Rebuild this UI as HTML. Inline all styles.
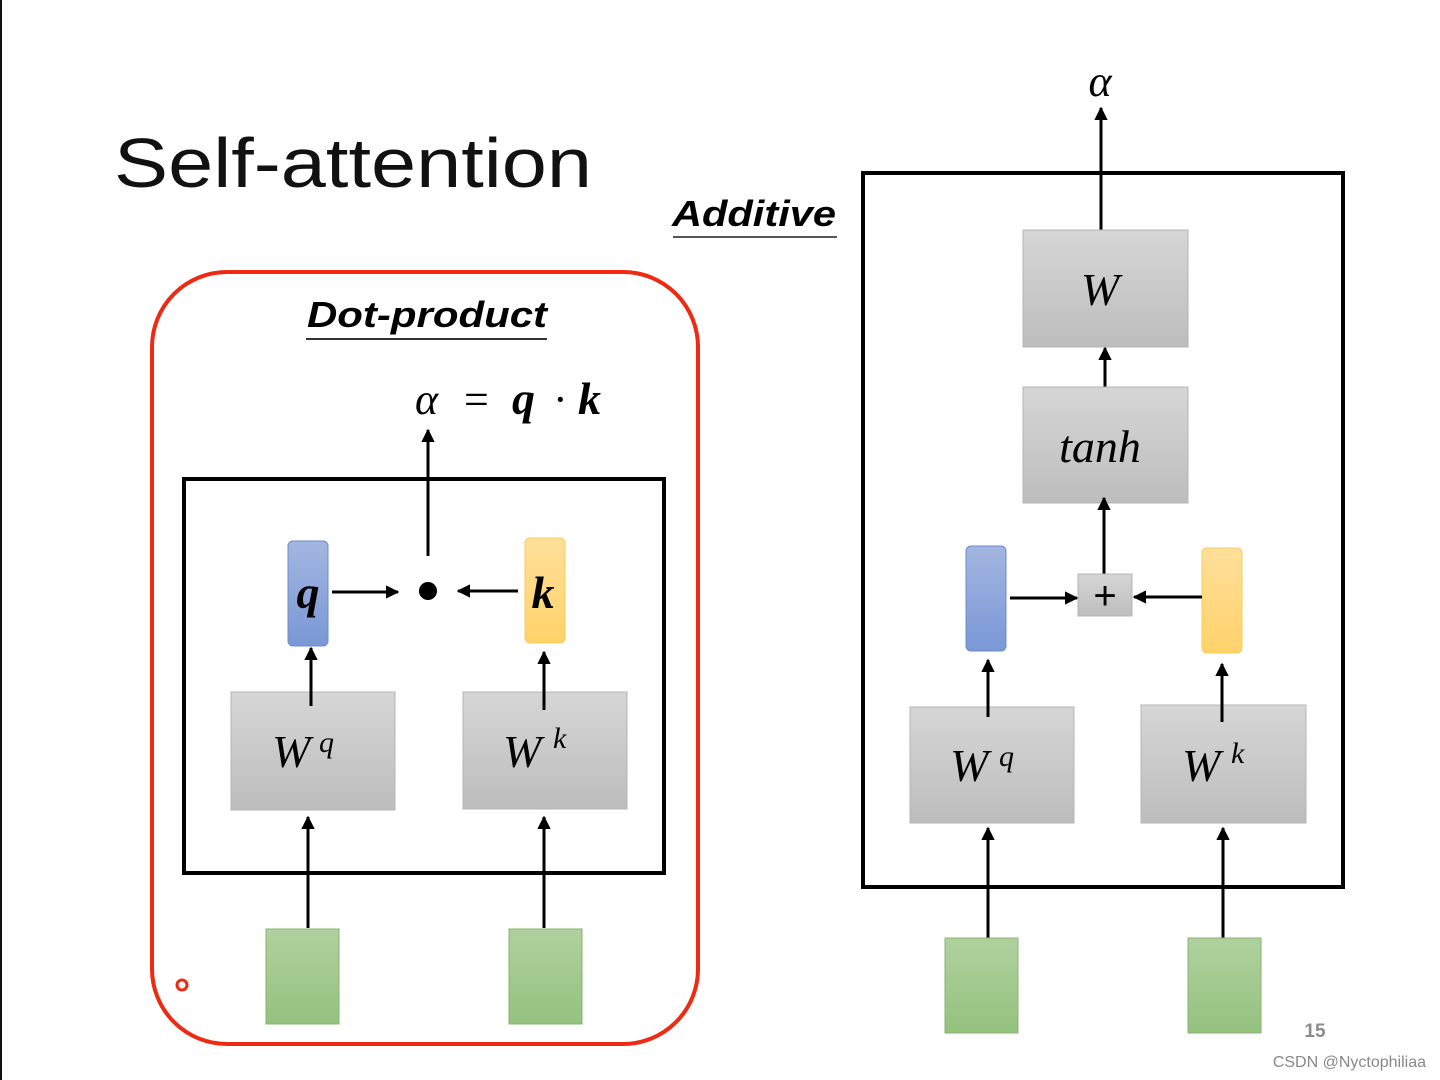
<!DOCTYPE html>
<html><head><meta charset="utf-8"><style>
html,body{margin:0;padding:0;background:#fff;}
svg{display:block;}
</style></head><body>
<svg width="1440" height="1080" viewBox="0 0 1440 1080" xmlns="http://www.w3.org/2000/svg">
<defs>
<linearGradient id="g" x1="0" y1="0" x2="0" y2="1"><stop offset="0" stop-color="#d6d6d6"/><stop offset="1" stop-color="#bdbdbd"/></linearGradient>
<linearGradient id="gr" x1="0" y1="0" x2="0" y2="1"><stop offset="0" stop-color="#b0d19f"/><stop offset="1" stop-color="#94c27e"/></linearGradient>
<linearGradient id="bl" x1="0" y1="0" x2="0" y2="1"><stop offset="0" stop-color="#a3b6e0"/><stop offset="1" stop-color="#7a98d6"/></linearGradient>
<linearGradient id="ye" x1="0" y1="0" x2="0" y2="1"><stop offset="0" stop-color="#ffdf9a"/><stop offset="1" stop-color="#ffd26a"/></linearGradient>
<marker id="a" viewBox="0 0 10 10" refX="9" refY="5" markerWidth="4.5" markerHeight="4.5" orient="auto-start-reverse" markerUnits="strokeWidth"><path d="M0,0 L10,5 L0,10 z" fill="#000"/></marker>
</defs>
<rect x="0" y="0" width="2" height="1080" fill="#111"/>
<text x="114" y="187" font-family="Liberation Sans, sans-serif" font-size="70" fill="#111" textLength="478" lengthAdjust="spacingAndGlyphs">Self-attention</text>

<!-- Dot-product -->
<rect x="152" y="272" width="546" height="772" rx="75" fill="none" stroke="#ee2a12" stroke-width="4"/>
<text x="427" y="327" text-anchor="middle" font-family="Liberation Sans, sans-serif" font-weight="bold" font-style="italic" font-size="36" fill="#000" textLength="240" lengthAdjust="spacingAndGlyphs">Dot-product</text>
<rect x="306" y="338" width="241" height="2" fill="#333"/>
<text x="415" y="414" font-family="Liberation Serif, serif" font-style="italic" font-size="44" fill="#000">α</text>
<text x="464" y="414" font-family="Liberation Serif, serif" font-size="44" fill="#000">=</text>
<text x="512" y="414" font-family="Liberation Serif, serif" font-style="italic" font-weight="bold" font-size="46" fill="#000">q</text>
<text x="553" y="414" font-family="Liberation Serif, serif" font-size="44" fill="#000">·</text>
<text x="578" y="414" font-family="Liberation Serif, serif" font-style="italic" font-weight="bold" font-size="46" fill="#000">k</text>
<rect x="184" y="479" width="480" height="394" fill="none" stroke="#000" stroke-width="4"/>
<line x1="428" y1="556" x2="428" y2="430" stroke="#000" stroke-width="3" marker-end="url(#a)"/>
<rect x="288" y="541" width="40" height="105" rx="5" fill="url(#bl)" stroke="#6d8ccc" stroke-width="1"/>
<text x="308" y="608" text-anchor="middle" font-family="Liberation Serif, serif" font-style="italic" font-weight="bold" font-size="46">q</text>
<rect x="525" y="538" width="40" height="105" rx="5" fill="url(#ye)" stroke="#f5cf55" stroke-width="1"/>
<text x="543" y="608" text-anchor="middle" font-family="Liberation Serif, serif" font-style="italic" font-weight="bold" font-size="46">k</text>
<circle cx="428" cy="591" r="9" fill="#000"/>
<line x1="332" y1="592" x2="398" y2="592" stroke="#000" stroke-width="3" marker-end="url(#a)"/>
<line x1="518" y1="591" x2="458" y2="591" stroke="#000" stroke-width="3" marker-end="url(#a)"/>
<rect x="231" y="692" width="164" height="118" fill="url(#g)" stroke="#b5b5b5"/>
<rect x="463" y="692" width="164" height="117" fill="url(#g)" stroke="#b5b5b5"/>
<text x="272" y="767" font-family="Liberation Serif, serif" font-style="italic" font-size="46">W</text>
<text x="319" y="752" font-family="Liberation Serif, serif" font-style="italic" font-size="30">q</text>
<text x="503" y="767" font-family="Liberation Serif, serif" font-style="italic" font-size="46">W</text>
<text x="553" y="748" font-family="Liberation Serif, serif" font-style="italic" font-size="30">k</text>
<line x1="311" y1="706" x2="311" y2="648" stroke="#000" stroke-width="3" marker-end="url(#a)"/>
<line x1="544" y1="710" x2="544" y2="652" stroke="#000" stroke-width="3" marker-end="url(#a)"/>
<line x1="308" y1="928" x2="308" y2="817" stroke="#000" stroke-width="3" marker-end="url(#a)"/>
<line x1="544" y1="928" x2="544" y2="817" stroke="#000" stroke-width="3" marker-end="url(#a)"/>
<rect x="266" y="929" width="73" height="95" fill="url(#gr)" stroke="#86b46f"/>
<rect x="509" y="929" width="73" height="95" fill="url(#gr)" stroke="#86b46f"/>
<circle cx="182" cy="985" r="5" fill="none" stroke="#ee2a12" stroke-width="3"/>

<!-- Additive -->
<text x="754" y="226" text-anchor="middle" font-family="Liberation Sans, sans-serif" font-weight="bold" font-style="italic" font-size="36" fill="#000" textLength="164" lengthAdjust="spacingAndGlyphs">Additive</text>
<rect x="673" y="236" width="164" height="2" fill="#555"/>
<rect x="863" y="173" width="480" height="714" fill="none" stroke="#000" stroke-width="4"/>
<text x="1100" y="96" text-anchor="middle" font-family="Liberation Serif, serif" font-style="italic" font-size="44">α</text>
<line x1="1101" y1="230" x2="1101" y2="108" stroke="#000" stroke-width="3" marker-end="url(#a)"/>
<rect x="1023" y="230" width="165" height="117" fill="url(#g)" stroke="#b5b5b5"/>
<text x="1100" y="305" text-anchor="middle" font-family="Liberation Serif, serif" font-style="italic" font-size="46">W</text>
<line x1="1105" y1="390" x2="1105" y2="348" stroke="#000" stroke-width="3" marker-end="url(#a)"/>
<rect x="1023" y="387" width="165" height="116" fill="url(#g)" stroke="#b5b5b5"/>
<text x="1100" y="462" text-anchor="middle" font-family="Liberation Serif, serif" font-style="italic" font-size="46">tanh</text>
<line x1="1104" y1="574" x2="1104" y2="498" stroke="#000" stroke-width="3" marker-end="url(#a)"/>
<rect x="1078" y="574" width="54" height="42" fill="url(#g)" stroke="#b5b5b5"/>
<text x="1105" y="609" text-anchor="middle" font-family="Liberation Sans, sans-serif" font-size="40">+</text>
<rect x="966" y="546" width="40" height="105" rx="5" fill="url(#bl)" stroke="#6d8ccc"/>
<rect x="1202" y="548" width="40" height="105" rx="5" fill="url(#ye)" stroke="#f5cf55"/>
<line x1="1010" y1="598" x2="1077" y2="598" stroke="#000" stroke-width="3" marker-end="url(#a)"/>
<line x1="1202" y1="597" x2="1134" y2="597" stroke="#000" stroke-width="3" marker-end="url(#a)"/>
<rect x="910" y="707" width="164" height="116" fill="url(#g)" stroke="#b5b5b5"/>
<rect x="1141" y="705" width="165" height="118" fill="url(#g)" stroke="#b5b5b5"/>
<text x="950" y="781" font-family="Liberation Serif, serif" font-style="italic" font-size="46">W</text>
<text x="999" y="766" font-family="Liberation Serif, serif" font-style="italic" font-size="30">q</text>
<text x="1182" y="781" font-family="Liberation Serif, serif" font-style="italic" font-size="46">W</text>
<text x="1231" y="763" font-family="Liberation Serif, serif" font-style="italic" font-size="30">k</text>
<line x1="988" y1="717" x2="988" y2="660" stroke="#000" stroke-width="3" marker-end="url(#a)"/>
<line x1="1222" y1="722" x2="1222" y2="664" stroke="#000" stroke-width="3" marker-end="url(#a)"/>
<line x1="988" y1="938" x2="988" y2="828" stroke="#000" stroke-width="3" marker-end="url(#a)"/>
<line x1="1223" y1="938" x2="1223" y2="828" stroke="#000" stroke-width="3" marker-end="url(#a)"/>
<rect x="945" y="938" width="73" height="95" fill="url(#gr)" stroke="#86b46f"/>
<rect x="1188" y="938" width="73" height="95" fill="url(#gr)" stroke="#86b46f"/>

<text x="1315" y="1037" text-anchor="middle" font-family="Liberation Sans, sans-serif" font-weight="bold" font-size="19" fill="#8c8c8c">15</text>
<text x="1426" y="1067" text-anchor="end" font-family="Liberation Sans, sans-serif" font-size="16" fill="#888">CSDN @Nyctophiliaa</text>
</svg>
</body></html>
